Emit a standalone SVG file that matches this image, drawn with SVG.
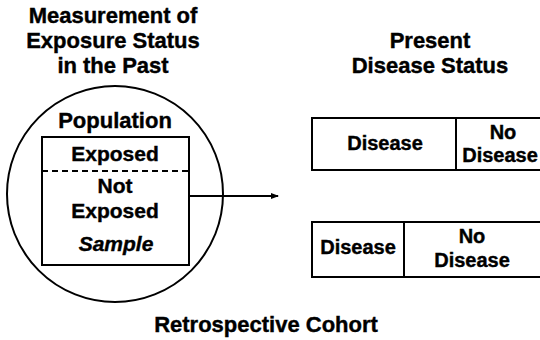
<svg xmlns="http://www.w3.org/2000/svg" width="540" height="340" viewBox="0 0 540 340">
<defs>
<style>
text{font-family:"Liberation Sans",Arial,Helvetica,sans-serif;font-weight:bold;font-size:22px;fill:#000;stroke:#000;stroke-width:0.4;text-anchor:middle}
.md{font-size:21px}
.sm{font-size:20px}
.it{font-style:italic}
.ln{fill:none;stroke:#000;stroke-width:2}
</style>
<marker id="ah" markerWidth="8" markerHeight="8" refX="7" refY="4" orient="auto" markerUnits="userSpaceOnUse">
<path d="M0,1 L8,4 L0,7 Z" fill="#000"/>
</marker>
</defs>
<rect width="540" height="340" fill="#fff"/>
<g id="title-past">
<text x="113" y="23">Measurement of</text>
<text x="113" y="48">Exposure Status</text>
<text x="113" y="73">in the Past</text>
</g>
<g id="population">
<circle class="ln" cx="115" cy="194" r="108"/>
<text x="115" y="128">Population</text>
</g>
<g id="sample">
<rect class="ln" x="42" y="137" width="147" height="128"/>
<line class="ln" x1="42" y1="171" x2="189" y2="171" stroke-dasharray="6,4"/>
<text class="md" x="115" y="161">Exposed</text>
<text class="md" x="115" y="193">Not</text>
<text class="md" x="115" y="218">Exposed</text>
<text class="md it" x="116" y="251">Sample</text>
</g>
<g id="title-present">
<text x="430" y="48">Present</text>
<text x="430" y="73">Disease Status</text>
</g>
<g id="exposed-outcome">
<rect class="ln" x="312" y="118" width="240" height="52"/>
<line class="ln" x1="456" y1="118" x2="456" y2="170"/>
<text class="sm" x="385" y="150">Disease</text>
<text class="sm" x="503" y="139">No</text>
<text class="sm" x="500" y="162">Disease</text>
</g>
<g id="unexposed-outcome">
<rect class="ln" x="312" y="222" width="240" height="55"/>
<line class="ln" x1="404" y1="222" x2="404" y2="277"/>
<text class="sm" x="358" y="254">Disease</text>
<text class="sm" x="472" y="243">No</text>
<text class="sm" x="472" y="267">Disease</text>
</g>
<g id="connectors">
<line class="ln" x1="189" y1="196" x2="278" y2="196" marker-end="url(#ah)"/>
</g>
<g id="caption">
<text x="266" y="332">Retrospective Cohort</text>
</g>
</svg>
